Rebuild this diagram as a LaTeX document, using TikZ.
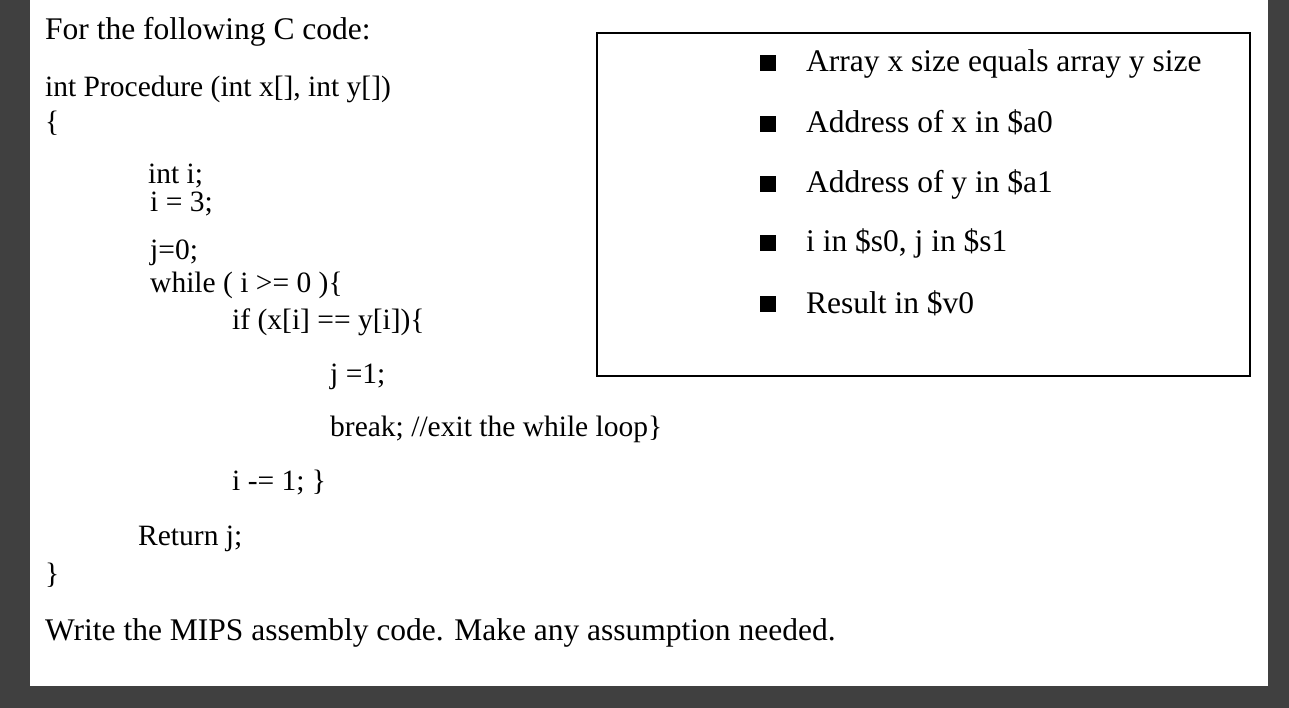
\documentclass[tikz,border=0pt]{standalone}
\usepackage{fontspec}
\setmainfont{Liberation Serif}
\begin{document}
\begin{tikzpicture}[x=1pt,y=-1pt,
  txt/.style={anchor=base west,inner sep=0pt,font=\fontsize{31.5}{36}\selectfont},
  code/.style={anchor=base west,inner sep=0pt,font=\fontsize{29.5}{34}\selectfont},
  bul/.style={anchor=base west,inner sep=0pt,font=\fontsize{31.5}{36}\selectfont},
  sq/.style={fill=black,minimum size=16pt,inner sep=0pt}]
\fill[black!75] (0,0) rectangle (1289,708);
\fill[white] (30,0) rectangle (1268,686);
\node[txt] (t1) at (45,40) {For the following C code:};
\node[code] (c1) at (45,97) {int Procedure (int x[], int y[])};
\node[code] (c2) at (45,132) {\{};
\node[code] (c3) at (148,184) {int i;};
\node[code] (c4) at (150,212) {i = 3;};
\node[code] (c5) at (150,260) {j=0;};
\node[code] (c6) at (150,293) {while ( i >= 0 )\{};
\node[code] (c7) at (232,330) {if (x[i] == y[i])\{};
\node[code] (c8) at (330,383) {j =1;};
\node[code] (c9) at (330,436) {break; //exit the while loop\}};
\node[code] (c10) at (232,490) {i -= 1; \}};
\node[code] (c11) at (138,545) {Return j;};
\node[code] (c12) at (45,583) {\}};
\node[txt] (t2) at (45,640) {Write the MIPS assembly code. Make any assumption needed.};
\draw[line width=1.2pt] (597,33) rectangle (1250,376);
\foreach \y/\t [count=\i] in {72/Array x size equals array y size,133/Address of x in \$a0,193/Address of y in \$a1,252/i in \$s0{,} j in \$s1,313/Result in \$v0}{
  \node[sq] (s\i) at (768,\y-9) {};
  \node[bul] (b\i) at (806,\y) {\t};
}
\end{tikzpicture}
\end{document}
